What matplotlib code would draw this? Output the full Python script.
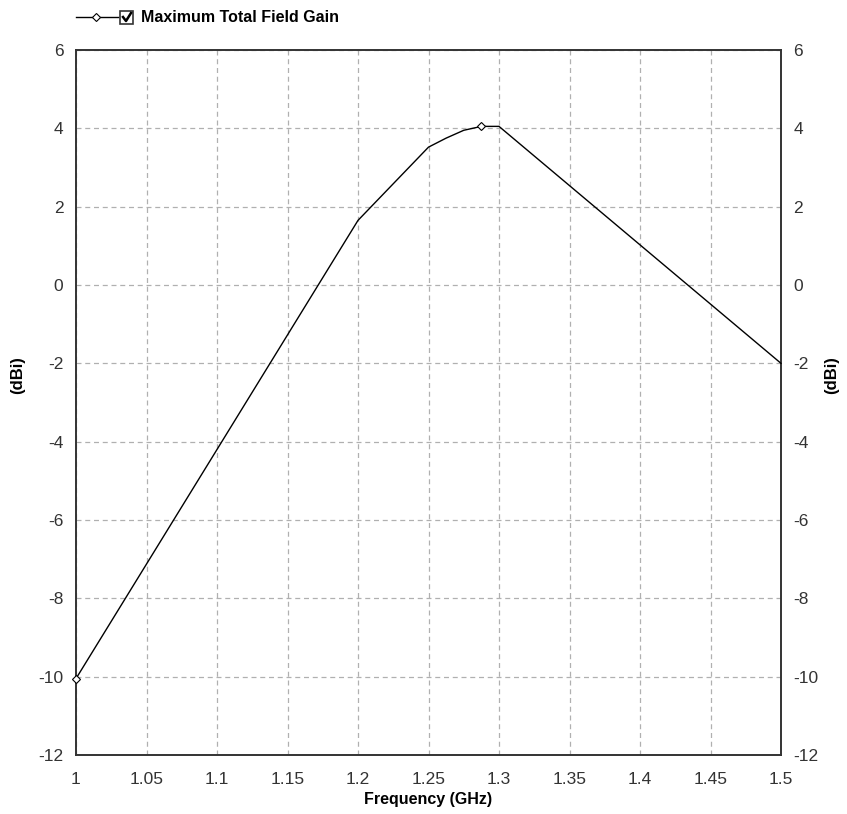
import numpy as np
import matplotlib.pyplot as plt
from matplotlib.lines import Line2D
from matplotlib.patches import Rectangle

# datos
freq = [1.0, 1.2, 1.25, 1.2625, 1.275, 1.2875, 1.3, 1.5]
gain = [-10.05, 1.65, 3.52, 3.75, 3.95, 4.05, 4.05, -2.0]
x_ticks = [1.0, 1.05, 1.1, 1.15, 1.2, 1.25, 1.3, 1.35, 1.4, 1.45, 1.5]
x_tick_labels = ['1', '1.05', '1.1', '1.15', '1.2', '1.25', '1.3', '1.35', '1.4', '1.45', '1.5']
y_ticks = [-12, -10, -8, -6, -4, -2, 0, 2, 4, 6]
serie = 'Maximum Total Field Gain'

plt.rcParams['font.family'] = ['Liberation Sans', 'DejaVu Sans']
plt.rcParams['axes.unicode_minus'] = False

W, H = 847, 814
fig = plt.figure(figsize=(W / 100, H / 100), dpi=100)
ax = fig.add_axes([76 / W, 1 - 755 / H, (781 - 76) / W, (755 - 50) / H])

ax.plot(freq, gain, color='black', lw=1.0, marker='D', markersize=4,
        markerfacecolor='white', markeredgecolor='black', markeredgewidth=0.8,
        markevery=[0, 5], clip_on=False, zorder=3)

ax.set_xlim(1.0, 1.5)
ax.set_ylim(-12, 6)
ax.set_xticks(x_ticks)
ax.set_xticklabels(x_tick_labels)
ax.set_yticks(y_ticks)
ax.tick_params(length=0, labelsize=12.5, colors='#333333')
ax.tick_params(axis='x', pad=12)
ax.tick_params(axis='y', labelright=True, right=False, pad=9)
ax.grid(True, color='#b0b0b0', linestyle=(0, (4, 3)), lw=0.9)
for s in ax.spines.values():
    s.set_color('#333333')
    s.set_linewidth(1.4)

ax.set_xlabel('Frequency (GHz)', fontsize=11.5, fontweight='bold', labelpad=4)
fig.text(18 / W, 1 - 375 / H, '(dBi)', rotation=90, fontsize=12, fontweight='bold',
         ha='center', va='center')
fig.text(832 / W, 1 - 375 / H, '(dBi)', rotation=90, fontsize=12, fontweight='bold',
         ha='center', va='center')

# leyenda arriba a la izquierda
ly = 1 - 17 / H
fig.add_artist(Line2D([76 / W, 118 / W], [ly, ly], color='black', lw=1.0,
                      transform=fig.transFigure))
fig.add_artist(Line2D([96 / W], [ly], marker='D', markersize=4, markerfacecolor='white',
                      markeredgecolor='black', markeredgewidth=0.8, transform=fig.transFigure))
fig.add_artist(Rectangle((120 / W, 1 - 24 / H), 13 / W, 13 / H, fill=False,
                         edgecolor='#333333', lw=1.2, transform=fig.transFigure))
fig.add_artist(Line2D([123 / W, 126 / W, 131 / W], [1 - 17 / H, 1 - 21 / H, 1 - 13 / H],
                      color='black', lw=1.8, transform=fig.transFigure))
fig.text(141 / W, ly, serie, fontsize=11.5, fontweight='bold', va='center', ha='left')

fig.savefig('out.png', dpi=100)
